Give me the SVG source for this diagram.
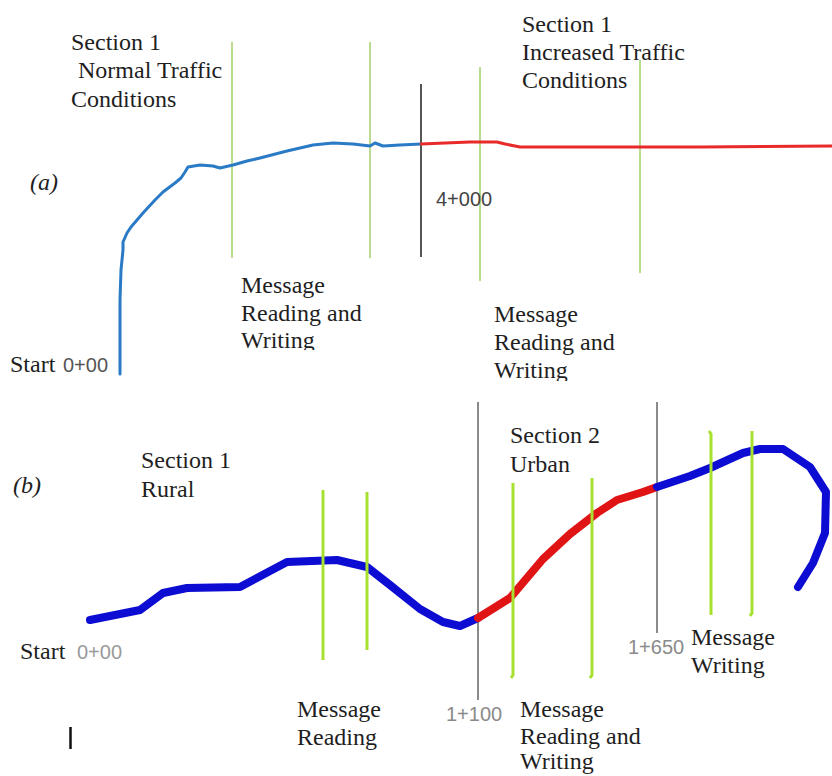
<svg xmlns="http://www.w3.org/2000/svg" width="832" height="776" viewBox="0 0 832 776">
<defs>
<style>
.t{font-family:"Liberation Serif","Times New Roman",serif;font-size:24px;fill:#1e1e1e}
.it{font-family:"Liberation Serif","Times New Roman",serif;font-size:24px;font-style:italic;fill:#1e1e1e}
.km{font-family:"Liberation Sans",Arial,sans-serif;font-size:20px}
.ga{stroke:#b9dc8f;stroke-width:2;fill:none}
.gb{stroke:#a8e030;stroke-width:3;fill:none}
.sep{stroke:#8a8a8a;stroke-width:2;fill:none}
.roadA{fill:none;stroke-width:3;stroke-linecap:round;stroke-linejoin:round}
.roadB{fill:none;stroke-width:8;stroke-linecap:round;stroke-linejoin:round}
</style>
<clipPath id="clipA1"><rect x="0" y="0" width="832" height="350"/></clipPath>
<clipPath id="clipA2"><rect x="0" y="0" width="832" height="381"/></clipPath>
</defs>
<rect width="832" height="776" fill="#ffffff"/>

<g id="panel-a">
  <g id="a-markers">
    <line class="ga" x1="232" y1="42" x2="232" y2="258"/>
    <line class="ga" x1="370" y1="42" x2="370" y2="258"/>
    <line class="ga" x1="480" y1="67" x2="480" y2="281"/>
    <line class="ga" x1="640" y1="60" x2="640" y2="273"/>
    <line x1="421" y1="84" x2="421" y2="257" stroke="#555" stroke-width="2"/>
  </g>
  <g id="a-road">
    <path class="roadA" stroke="#2a7ac6" d="M120,374 L120,300 L121,270 L123,250 L123,242 L127,233 L131,227 L143,213 L155,200 L163,192 L175,183 L181,178 L185,172 L188,167 L200,165 L213,166 L220,168 L233,165 L247,161 L260,158 L287,151 L313,145 L333,143 L353,144 L370,146 L375,143 L383,146 L400,145 L421,144"/>
    <path class="roadA" stroke="#e82a2a" d="M421,144 L445,143 L470,142 L485,142 L497,142 L505,144 L520,147 L540,147 L600,147 L700,147 L832,146"/>
  </g>
  <g id="a-labels">
    <text class="it" x="30" y="190">(a)</text>
    <text class="t" x="71" y="50">Section 1</text>
    <text class="t" x="78" y="78">Normal Traffic</text>
    <text class="t" x="71" y="107">Conditions</text>
    <text class="t" x="522" y="32">Section 1</text>
    <text class="t" x="522" y="60">Increased Traffic</text>
    <text class="t" x="522" y="88">Conditions</text>
    <text class="km" x="436" y="206" fill="#444">4+000</text>
    <text class="t" x="10" y="372">Start</text>
    <text class="km" x="63" y="372" fill="#555">0+00</text>
    <g clip-path="url(#clipA1)">
      <text class="t" x="241" y="293">Message</text>
      <text class="t" x="241" y="321">Reading and</text>
      <text class="t" x="241" y="348">Writing</text>
    </g>
    <g clip-path="url(#clipA2)">
      <text class="t" x="494" y="322">Message</text>
      <text class="t" x="494" y="350">Reading and</text>
      <text class="t" x="494" y="378">Writing</text>
    </g>
  </g>
</g>

<g id="panel-b">
  <g id="b-markers">
    <line class="sep" x1="478" y1="402" x2="478" y2="700"/>
    <line class="sep" x1="657" y1="402" x2="657" y2="633"/>
  </g>
  <g id="b-road">
    <path class="roadB" stroke="#0c0cd2" d="M90,620 L140,610 L163,593 L187,588 L240,587 L287,562 L337,560 L367,567 L390,585 L420,609 L443,622 L460,626 L478,618"/>
    <path class="roadB" stroke="#e01414" d="M478,618 L510,598 L543,559 L570,534 L597,513 L617,500 L643,492 L657,487"/>
    <path class="roadB" stroke="#0c0cd2" d="M657,487 L690,476 L710,468 L743,453 L760,449 L783,449 L810,467 L826,492 L825,533 L813,563 L798,587"/>
  </g>
  <g id="b-green">
    <line class="gb" x1="323" y1="490" x2="323" y2="660"/>
    <line class="gb" x1="367" y1="492" x2="367" y2="650"/>
    <path class="gb" d="M513,483 L513,675 L511,678"/>
    <path class="gb" d="M592,478 L592,675 L590,678"/>
    <path class="gb" d="M709,431 L711,434 L711,615"/>
    <path class="gb" d="M752,431 L752,613 L750,616"/>
  </g>
  <g id="b-labels">
    <text class="it" x="13" y="493">(b)</text>
    <text class="t" x="141" y="468">Section 1</text>
    <text class="t" x="141" y="497">Rural</text>
    <text class="t" x="510" y="443">Section 2</text>
    <text class="t" x="510" y="472">Urban</text>
    <text class="t" x="20" y="659">Start</text>
    <text class="km" x="77" y="659" fill="#9a9a9a">0+00</text>
    <text class="t" x="297" y="717">Message</text>
    <text class="t" x="297" y="745">Reading</text>
    <text class="km" x="446" y="721" fill="#8a8a8a">1+100</text>
    <text class="t" x="520" y="717">Message</text>
    <text class="t" x="520" y="744">Reading and</text>
    <text class="t" x="520" y="769">Writing</text>
    <text class="km" x="628" y="654" fill="#8a8a8a">1+650</text>
    <text class="t" x="691" y="645">Message</text>
    <text class="t" x="691" y="673">Writing</text>
    <line x1="70.5" y1="727" x2="70.5" y2="749" stroke="#111" stroke-width="2.5"/>
  </g>
</g>
</svg>
